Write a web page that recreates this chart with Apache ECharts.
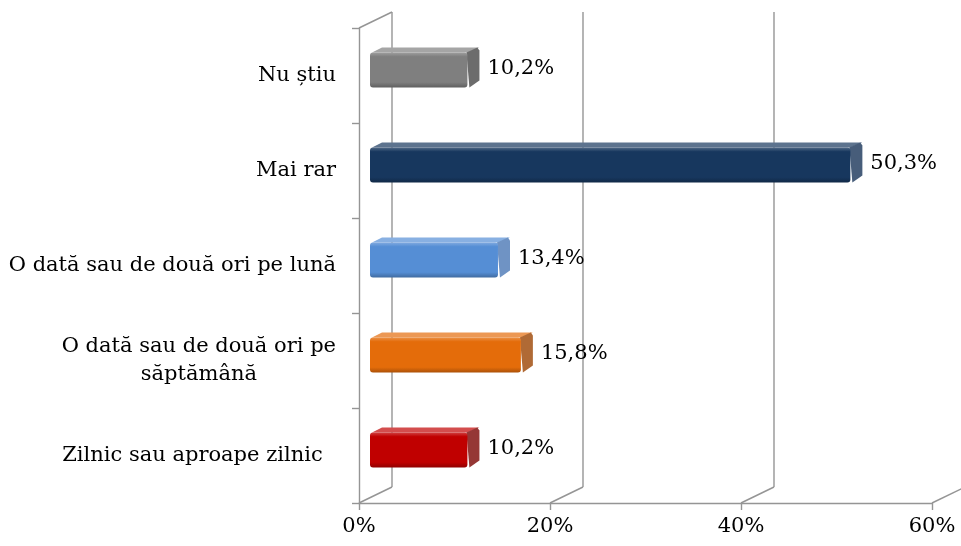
<!DOCTYPE html>
<html>
<head>
<meta charset="utf-8">
<script src="https://cdn.jsdelivr.net/npm/echarts@6/dist/echarts.min.js"></script>
<style>
  html, body { margin: 0; padding: 0; background: #fff; }
  #chart { width: 961px; height: 546px; }
</style>
</head>
<body>
<div id="chart"></div>
<script>
  // categories from bottom to top
  var categories = [
    "Zilnic sau aproape zilnic  ",
    "O dată sau de două ori pe\nsăptămână",
    "O dată sau de două ori pe lună",
    "Mai rar",
    "Nu știu"
  ];
  var values = [10.2, 15.8, 13.4, 50.3, 10.2];
  var xTicks = [0, 20, 40, 60];

  var colors = ["#c00000", "#e46c0a", "#558ed5", "#17375e", "#7f7f7f"];
  var capColors = ["#953735", "#b06a35", "#6f93c4", "#475d7a", "#6c6c6c"];

  var FONT = "DejaVu Serif";
  var FS = 21;
  var GRID_COLOR = "#959595";
  var DX = 33, DY = -16; // depth of the 3d walls

  function shade(hex, amt) {
    var n = parseInt(hex.slice(1), 16);
    var r = (n >> 16) & 255, g = (n >> 8) & 255, b = n & 255;
    function f(c) {
      c = amt > 0 ? c + (255 - c) * amt : c * (1 + amt);
      return Math.max(0, Math.min(255, Math.round(c)));
    }
    return "rgb(" + f(r) + "," + f(g) + "," + f(b) + ")";
  }

  function fmt(v) {
    return v.toFixed(1).replace(".", ",") + "%";
  }

  function renderFrame(params, api) {
    var v = api.value(0);
    var x = api.coord([v, 0])[0];
    var cs = params.coordSys;
    var top = cs.y, bottom = cs.y + cs.height;
    var ls = { stroke: GRID_COLOR, lineWidth: 1.4 };
    var children = [
      { type: "line", shape: { x1: x, y1: bottom, x2: x + DX, y2: bottom + DY }, style: ls },
      { type: "line", shape: { x1: x + DX, y1: bottom + DY, x2: x + DX, y2: top + DY }, style: ls }
    ];
    if (v === 0) {
      children.push({ type: "line", shape: { x1: x, y1: top, x2: x + DX, y2: top + DY }, style: ls });
    }
    return { type: "group", children: children };
  }

  function renderBar(params, api) {
    var val = api.value(0);
    var idx = api.value(1);
    var p0 = api.coord([0, idx]);
    var p1 = api.coord([val, idx]);
    var cy = p0[1];
    var x0 = p0[0] + 11, x1 = p1[0] + 11;
    var yt = cy - 23, yb = cy + 12;
    var dx = 12, dy = -5;
    var base = colors[idx];
    var grad = new echarts.graphic.LinearGradient(0, 0, 0, 1, [
      { offset: 0, color: shade(base, 0.25) },
      { offset: 0.12, color: base },
      { offset: 0.85, color: base },
      { offset: 1, color: shade(base, -0.25) }
    ]);
    return {
      type: "group",
      children: [
        {
          type: "polygon",
          shape: { points: [[x0 + 2, yt], [x1, yt], [x1 + dx, yt + dy], [x0 + dx, yt + dy]] },
          style: { fill: shade(base, 0.3) }
        },
        {
          type: "polygon",
          shape: { points: [[x1 - 1, yt], [x1 + dx - 2, yt + dy], [x1 + dx, yt + dy + 3], [x1 + dx, yb + dy - 2], [x1 + 2, yb]] },
          style: { fill: capColors[idx] }
        },
        {
          type: "rect",
          shape: { x: x0, y: yt, width: x1 - x0, height: yb - yt, r: 3 },
          style: { fill: grad }
        },
        {
          type: "text",
          style: {
            text: fmt(val),
            x: x1 + dx + 8,
            y: cy - 7,
            verticalAlign: "middle",
            align: "left",
            fontFamily: FONT,
            fontSize: FS,
            fill: "#000"
          }
        }
      ]
    };
  }

  var chart = echarts.init(document.getElementById("chart"));
  chart.setOption({
    animation: false,
    grid: { left: 359, right: 29, top: 28, bottom: 43 },
    xAxis: {
      type: "value",
      min: 0,
      max: 60,
      interval: 20,
      axisLine: { show: true, lineStyle: { color: GRID_COLOR, width: 1.4 } },
      axisTick: { show: true, length: 7, lineStyle: { color: GRID_COLOR, width: 1.4 } },
      splitLine: { show: false },
      axisLabel: {
        formatter: "{value}%",
        fontFamily: FONT,
        fontSize: FS,
        color: "#000",
        margin: 13
      }
    },
    yAxis: {
      type: "category",
      data: categories,
      axisLine: { show: true, lineStyle: { color: GRID_COLOR, width: 1.4 } },
      axisTick: { show: true, length: 7, lineStyle: { color: GRID_COLOR, width: 1.4 } },
      axisLabel: {
        margin: 23,
        fontFamily: FONT,
        fontSize: FS,
        color: "#000",
        lineHeight: 28,
        formatter: function (v) {
          if (v.indexOf("\n") < 0) return v;
          return v.split("\n").map(function (s) { return "{c|" + s + "}"; }).join("\n");
        },
        rich: {
          c: { align: "center", fontFamily: FONT, fontSize: FS, color: "#000", lineHeight: 28 }
        }
      }
    },
    series: [
      {
        type: "custom",
        z: 1,
        clip: false,
        silent: true,
        renderItem: renderFrame,
        data: xTicks.map(function (v) { return [v, 0]; })
      },
      {
        type: "custom",
        z: 2,
        clip: false,
        renderItem: renderBar,
        data: values.map(function (v, i) { return [v, i]; })
      }
    ]
  });
</script>
</body>
</html>
